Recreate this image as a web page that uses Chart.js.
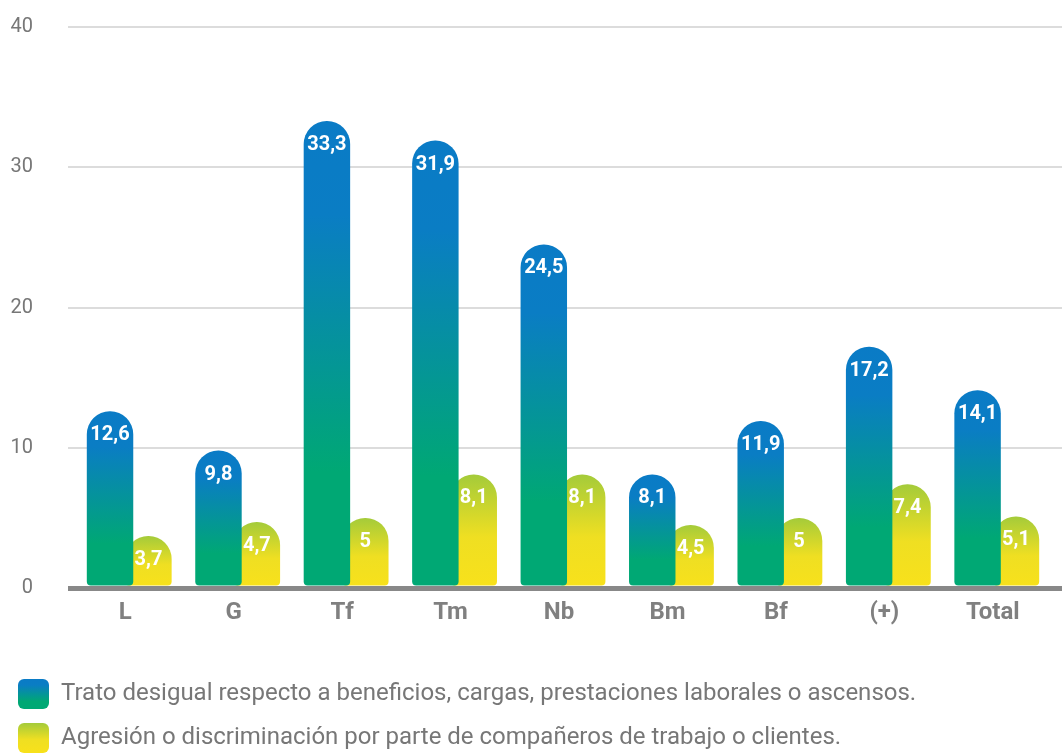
<!DOCTYPE html>
<html lang="es">
<head>
<meta charset="utf-8">
<title>Trato desigual y agresión</title>
<script src="https://cdn.jsdelivr.net/npm/chart.js@4.4.1/dist/chart.umd.min.js"></script>
<style>
  html, body { margin: 0; padding: 0; background: #fff; }
  #chart { display: block; }
</style>
</head>
<body>
<canvas id="chart" width="1062" height="753"></canvas>
<script>
const categories = ['L', 'G', 'Tf', 'Tm', 'Nb', 'Bm', 'Bf', '(+)', 'Total'];
const tratoDesigual = [12.6, 9.8, 33.3, 31.9, 24.5, 8.1, 11.9, 17.2, 14.1];
const agresion = [3.7, 4.7, 5, 8.1, 8.1, 4.5, 5, 7.4, 5.1];
const seriesNames = [
    'Trato desigual respecto a beneficios, cargas, prestaciones laborales o ascensos.',
    'Agresión o discriminación por parte de compañeros de trabajo o clientes.'
];
const yTicks = [0, 10, 20, 30, 40];

const blueStops = [[0, '#0a7bc6'], [0.2, '#0a7dc4'], [0.75, '#00a874'], [1, '#00a874']];
const yellowStops = [[0, '#a4cb3a'], [0.55, '#efdf22'], [1, '#f8e11b']];

// per-bar vertical gradient, from the bar top down to zero
function barFill(stops) {
    return function(c) {
        const chart = c.chart;
        if (!chart.chartArea || c.type !== 'data') return stops[0][1];
        const y = chart.scales.y;
        const top = y.getPixelForValue(c.raw);
        const bottom = y.getPixelForValue(0);
        const g = chart.ctx.createLinearGradient(0, top, 0, bottom);
        stops.forEach(s => g.addColorStop(s[0], s[1]));
        return g;
    };
}

function legendIcon(stops) {
    const cv = document.createElement('canvas');
    cv.width = 31;
    cv.height = 30;
    const x = cv.getContext('2d');
    const g = x.createLinearGradient(0, 0, 0, 30);
    stops.forEach(s => g.addColorStop(s[0], s[1]));
    x.fillStyle = g;
    x.beginPath();
    x.roundRect(0, 0, 31, 30, 6);
    x.fill();
    return cv;
}
const legendIcons = [legendIcon(blueStops), legendIcon(yellowStops)];

const valueLabels = {
    id: 'valueLabels',
    afterDatasetsDraw(chart) {
        const ctx = chart.ctx;
        ctx.save();
        ctx.font = 'bold 20px Roboto';
        ctx.fillStyle = '#ffffff';
        ctx.textAlign = 'center';
        ctx.textBaseline = 'middle';
        chart.data.datasets.forEach((ds, i) => {
            chart.getDatasetMeta(i).data.forEach((bar, j) => {
                ctx.fillText(String(ds.data[j]).replace('.', ','), bar.x, bar.y + 24);
            });
        });
        ctx.restore();
    }
};

const isZero = c => c.tick && c.tick.value === 0;
const gridColor = c => isZero(c) ? '#888888' : '#dcdcdc';
const gridWidth = c => isZero(c) ? 5 : 2;
const setTicks = s => { s.ticks = yTicks.map(v => ({ value: v })); };

const barOpts = {
    borderWidth: 0,
    borderSkipped: false,
    borderRadius: { topLeft: 23, topRight: 23, bottomLeft: 4, bottomRight: 4 },
    categoryPercentage: 0.708,
    barPercentage: 1.21
};

new Chart(document.getElementById('chart'), {
    type: 'bar',
    data: {
        labels: categories,
        datasets: [
            Object.assign({ label: seriesNames[0], data: tratoDesigual, backgroundColor: barFill(blueStops) }, barOpts),
            Object.assign({ label: seriesNames[1], data: agresion, backgroundColor: barFill(yellowStops) }, barOpts)
        ]
    },
    options: {
        responsive: false,
        animation: false,
        layout: { padding: { top: 27, bottom: -7, left: -2, right: 0 } },
        scales: {
            x: {
                z: 1,
                ticks: {
                    color: '#808080',
                    font: { family: 'Roboto', size: 24, weight: 'bold' },
                    padding: 11,
                    labelOffset: -4
                },
                grid: { drawOnChartArea: false, drawTicks: false },
                border: { display: true, color: '#888888', width: 5 },
                afterFit: s => { s.height = 74; }
            },
            y: {
                min: yTicks[0],
                max: yTicks[yTicks.length - 1],
                afterBuildTicks: setTicks,
                ticks: { padding: 35, color: '#777777', font: { family: 'Roboto', size: 20 } },
                grid: { color: gridColor, lineWidth: gridWidth, tickLength: 7 },
                border: { display: false },
                // the wide tick padding would otherwise push the plot top down
                afterFit: s => { s.width = 77; s.paddingTop = 0; s.paddingBottom = 0; }
            },
            y2: {
                position: 'right',
                min: yTicks[0],
                max: yTicks[yTicks.length - 1],
                afterBuildTicks: setTicks,
                ticks: { display: false },
                grid: { drawOnChartArea: false, color: gridColor, lineWidth: gridWidth, tickLength: 11 },
                border: { display: false },
                afterFit: s => { s.width = 11; }
            }
        },
        plugins: {
            tooltip: { enabled: false },
            legend: {
                position: 'bottom',
                align: 'start',
                labels: {
                    usePointStyle: true,
                    pointStyleWidth: 31,
                    padding: 20,
                    color: '#777777',
                    font: { family: 'Roboto', size: 24 },
                    generateLabels(chart) {
                        const items = Chart.defaults.plugins.legend.labels.generateLabels(chart);
                        items.forEach((it, i) => { it.pointStyle = legendIcons[i]; });
                        return items;
                    }
                }
            }
        }
    },
    plugins: [valueLabels]
});
</script>
</body>
</html>
